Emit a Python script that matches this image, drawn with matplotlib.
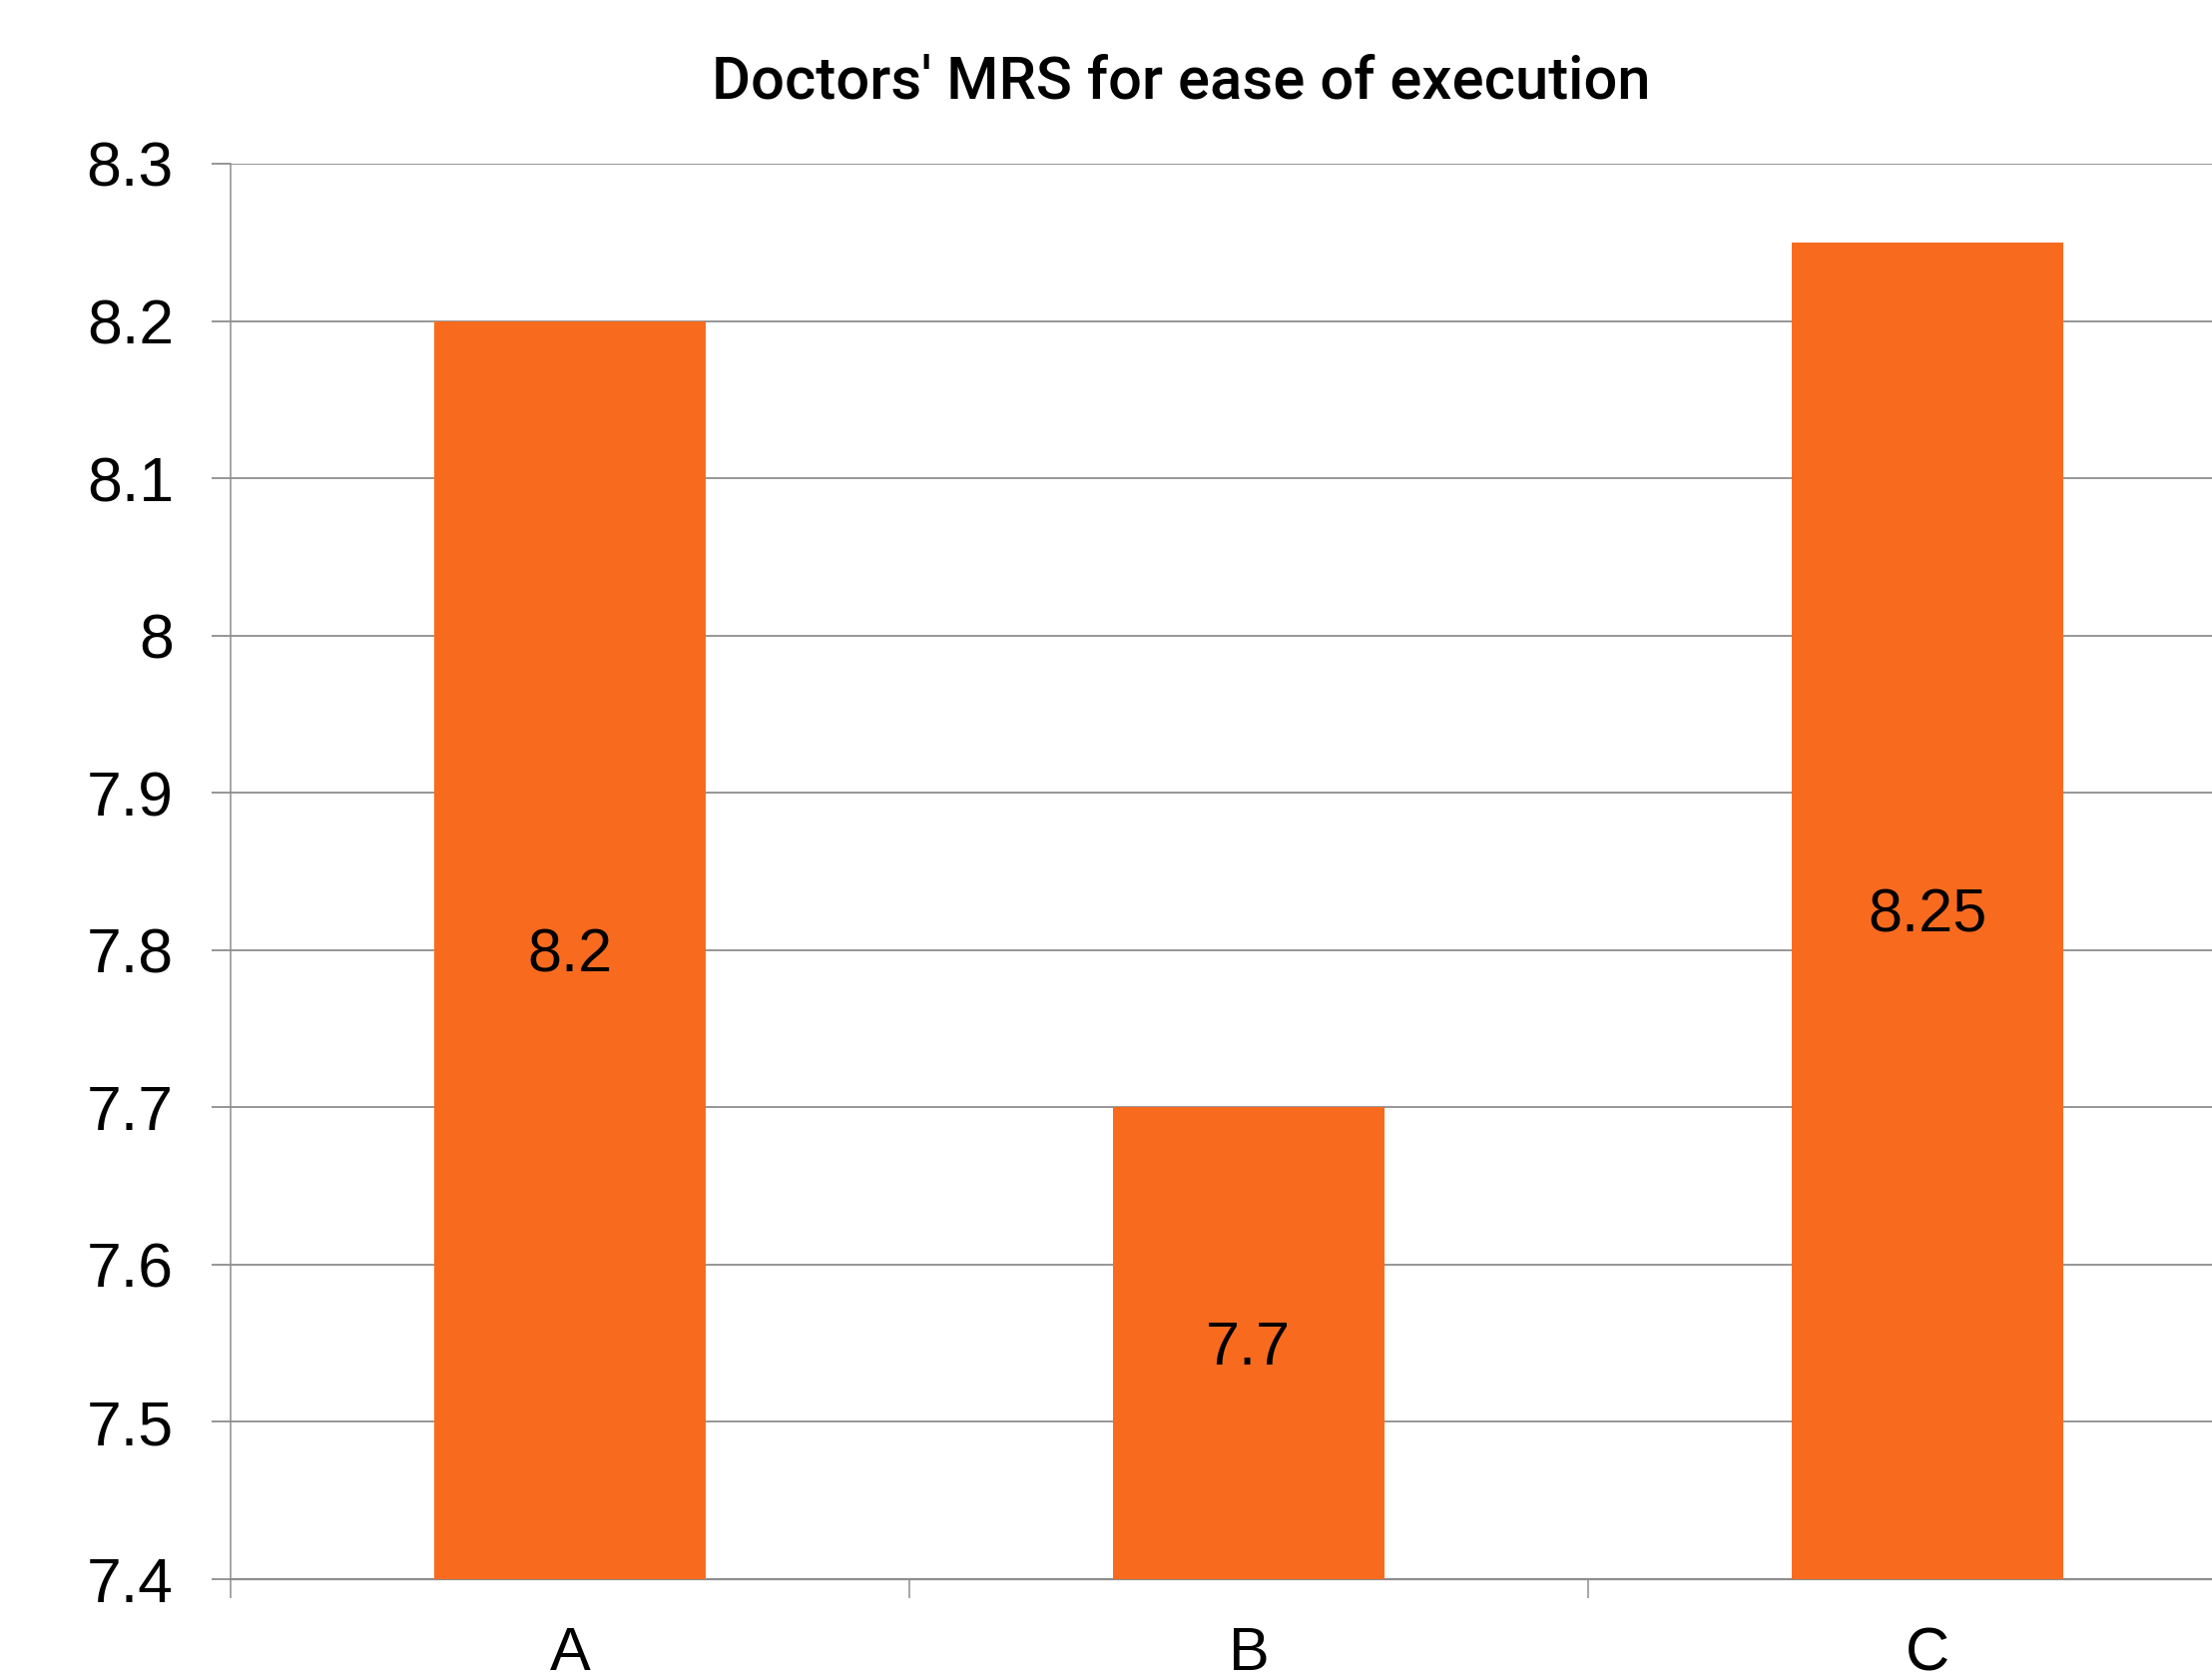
import matplotlib
matplotlib.use("Agg")
import matplotlib.pyplot as plt

# mean rating score per option
categories = ["A", "B", "C"]
scores = [8.2, 7.7, 8.25]
score_labels = ["8.2", "7.7", "8.25"]
y_ticks = [7.4, 7.5, 7.6, 7.7, 7.8, 7.9, 8.0, 8.1, 8.2, 8.3]
y_tick_labels = ["7.4", "7.5", "7.6", "7.7", "7.8", "7.9", "8", "8.1", "8.2", "8.3"]
title = "Doctors' MRS for ease of execution"

bar_color = "#f86b1f"
grid_color = "#8e8e8e"
y_min = 7.4

plt.rcParams["font.family"] = ["Liberation Sans", "DejaVu Sans"]

fig = plt.figure(figsize=(22.16, 16.82), dpi=100)
ax = fig.add_axes([0.1042, 0.0595, 0.9206, 0.843])

x = list(range(len(categories)))
heights = [s - y_min for s in scores]
ax.bar(x, heights, bottom=y_min, width=0.4, color=bar_color, zorder=3)

# value labels sit in the middle of each bar (cap height centred)
for xi, s, lab in zip(x, scores, score_labels):
    ax.annotate(lab, (xi, (y_min + s) / 2), xytext=(0, -15.5),
                textcoords="offset points", ha="center", va="baseline",
                fontsize=44, color="black", zorder=4)

ax.set_xlim(-0.5, 2.5)
ax.set_ylim(7.4, 8.3)
ax.set_yticks(y_ticks)
ax.set_yticklabels(y_tick_labels)
ax.set_xticks([-0.5, 0.5, 1.5, 2.5])
ax.set_xticklabels([])
ax.set_xticks(x, minor=True)
ax.set_xticklabels(categories, minor=True)

ax.yaxis.grid(True, color=grid_color, linewidth=1.3, zorder=0)
for side in ["top", "right"]:
    ax.spines[side].set_visible(False)
ax.spines["left"].set_color(grid_color)
ax.spines["left"].set_linewidth(1.1)
ax.spines["bottom"].set_color(grid_color)
ax.spines["bottom"].set_linewidth(1.6)

ax.tick_params(axis="y", length=14, width=1.3, color=grid_color,
               labelsize=45, pad=27)
ax.tick_params(axis="x", which="major", length=14, width=1.1, color=grid_color)
ax.tick_params(axis="x", which="minor", length=0, labelsize=44, pad=34)

fig.text(0.534, 0.9417, title, ha="center", va="baseline", fontsize=43,
         family=["Roboto", "Liberation Sans"], fontweight="medium")

fig.savefig("out.png", dpi=100)
